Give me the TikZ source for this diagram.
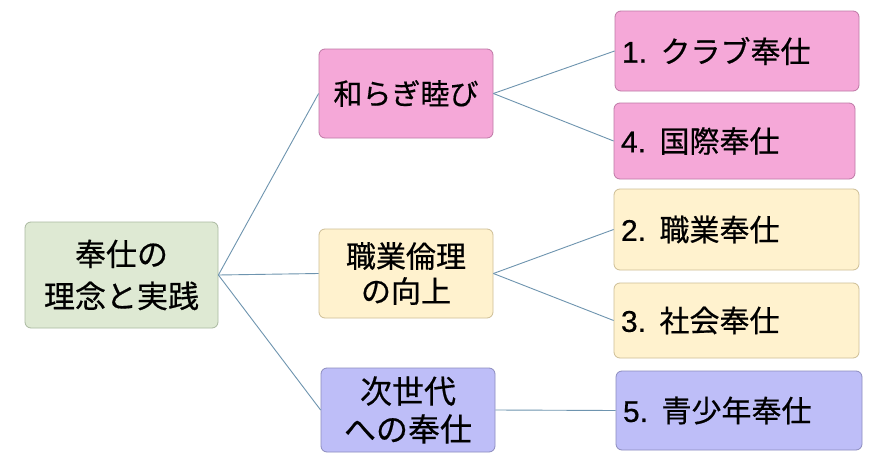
\documentclass[tikz,border=0pt]{standalone}
\usepackage{fontspec}
\setmainfont{Noto Sans CJK JP}[FakeBold=0.5]
\newfontfamily\numfont{Liberation Sans}[FakeBold=0.5]
\definecolor{gfill}{RGB}{222,233,211}
\definecolor{gdraw}{RGB}{170,185,160}
\definecolor{pfill}{RGB}{245,168,216}
\definecolor{pdraw}{RGB}{190,120,165}
\definecolor{yfill}{RGB}{255,242,206}
\definecolor{ydraw}{RGB}{205,190,150}
\definecolor{bfill}{RGB}{190,190,248}
\definecolor{bdraw}{RGB}{140,140,190}
\definecolor{lnk}{RGB}{110,148,175}
\newcommand{\numlbl}[1]{{\numfont #1.}\hspace{0.45em}}
\tikzset{
  box/.style={rounded corners=6pt, line width=0.8pt, inner sep=0pt, align=center,
    font=\fontsize{30}{40}\selectfont},
  rbox/.style={box, align=left, inner xsep=7pt},
  link/.style={draw=lnk, line width=0.9pt}
}
\begin{document}
\begin{tikzpicture}[x=1pt,y=-1pt]
\useasboundingbox[fill=white] (0,0) rectangle (892,463);
\node[box, fill=gfill, draw=gdraw, minimum width=193pt, minimum height=106pt, font=\fontsize{31}{42}\selectfont] (root) at (121.5,275) {奉仕の\\理念と実践};
\node[box, fill=pfill, draw=pdraw, minimum width=174pt, minimum height=89pt, font=\fontsize{29}{38}\selectfont] (m1) at (406,93.5) {和らぎ睦び};
\node[box, fill=yfill, draw=ydraw, minimum width=174pt, minimum height=89pt, font=\fontsize{30}{35}\selectfont] (m2) at (406,273.5) {職業倫理\\の向上};
\node[box, fill=bfill, draw=bdraw, minimum width=174pt, minimum height=84pt, font=\fontsize{32}{38}\selectfont] (m3) at (408,410) {次世代\\への奉仕};
\node[rbox, fill=pfill, draw=pdraw, minimum width=244pt, text width=230pt, minimum height=80pt] (r1) at (737,51) {\numlbl{1}クラブ奉仕};
\node[rbox, fill=pfill, draw=pdraw, minimum width=241pt, text width=227pt, minimum height=76pt] (r4) at (734.5,141) {\numlbl{4}国際奉仕};
\node[rbox, fill=yfill, draw=ydraw, minimum width=245pt, text width=231pt, minimum height=81pt] (r2) at (736.5,229.5) {\numlbl{2}職業奉仕};
\node[rbox, fill=yfill, draw=ydraw, minimum width=245pt, text width=231pt, minimum height=75pt] (r3) at (736.5,320.5) {\numlbl{3}社会奉仕};
\node[rbox, fill=bfill, draw=bdraw, minimum width=246pt, text width=232pt, minimum height=79pt] (r5) at (739,410.5) {\numlbl{5}青少年奉仕};
\draw[link] (root.east) -- (m1.west);
\draw[link] (root.east) -- (m2.west);
\draw[link] (root.east) -- (m3.west);
\draw[link] (m1.east) -- (r1.west);
\draw[link] (m1.east) -- (r4.west);
\draw[link] (m2.east) -- (r2.west);
\draw[link] (m2.east) -- (r3.west);
\draw[link] (m3.east) -- (r5.west);
\end{tikzpicture}
\end{document}
